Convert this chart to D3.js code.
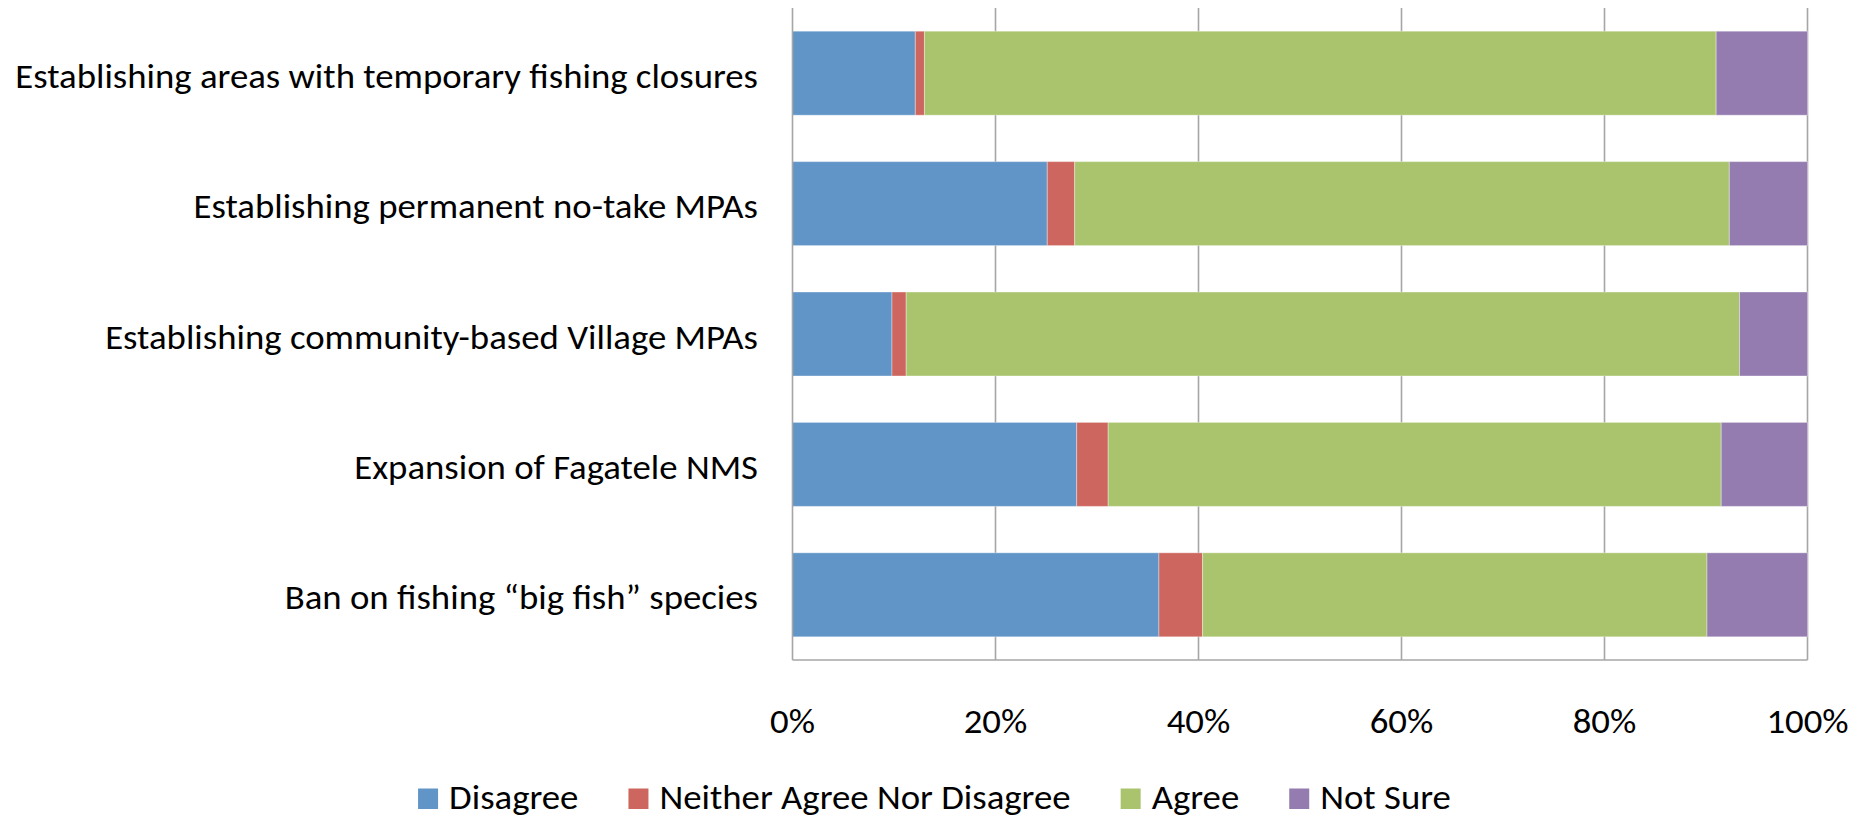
<!DOCTYPE html>
<html>
<head>
<meta charset="utf-8">
<script src="https://cdn.jsdelivr.net/npm/d3@7"></script>
<style>
  html, body { margin: 0; padding: 0; background: #fff; }
  svg { display: block; }
  text { font-family: Carlito, Lato, "Open Sans", sans-serif; fill: #000; }
</style>
</head>
<body>
<svg id="chart" width="1869" height="820"></svg>
<script>
// Survey responses, percentage of respondents per management option
const categories = [
  "Establishing areas with temporary fishing closures",
  "Establishing permanent no-take MPAs",
  "Establishing community-based Village MPAs",
  "Expansion of Fagatele NMS",
  "Ban on fishing \u201cbig fish\u201d species"
];
const seriesNames = ["Disagree", "Neither Agree Nor Disagree", "Agree", "Not Sure"];
const disagree = [12.1, 25.1, 9.8, 28.0, 36.1];
const neither  = [0.9, 2.7, 1.4, 3.1, 4.3];
const agree    = [78.0, 64.5, 82.1, 60.4, 49.7];
const notSure  = [9.0, 7.7, 6.7, 8.5, 9.9];
const tickValues = [0, 20, 40, 60, 80, 100];
const colors = ["#6195C8", "#CD665F", "#AAC46E", "#947BB0"];

const W = 1869, H = 820;
const plot = { left: 792.5, right: 1807.5, top: 8, bottom: 660 };
const fontSize = 34.5;

const rows = categories.map((c, i) => ({
  cat: c,
  "Disagree": disagree[i],
  "Neither Agree Nor Disagree": neither[i],
  "Agree": agree[i],
  "Not Sure": notSure[i]
}));

const stacked = d3.stack().keys(seriesNames)(rows);

const x = d3.scaleLinear().domain([0, 100]).range([plot.left, plot.right]);
const y = d3.scaleBand().domain(categories).range([plot.top, plot.bottom])
  .paddingInner(0.356).paddingOuter(0.178);
const color = d3.scaleOrdinal().domain(seriesNames).range(colors);

const svg = d3.select("#chart");

// vertical gridlines
svg.append("g").selectAll("line")
  .data(tickValues.filter(v => v > 0))
  .join("line")
  .attr("x1", d => x(d)).attr("x2", d => x(d))
  .attr("y1", plot.top).attr("y2", plot.bottom)
  .attr("stroke", "#A6A6A6").attr("stroke-width", 1.6);

// stacked bars
svg.append("g").selectAll("g")
  .data(stacked)
  .join("g")
  .attr("fill", d => color(d.key))
  .selectAll("rect")
  .data(d => d)
  .join("rect")
  .attr("x", d => x(d[0]))
  .attr("width", d => x(d[1]) - x(d[0]))
  .attr("y", d => y(d.data.cat))
  .attr("height", y.bandwidth())
  .attr("stroke", "rgba(255,255,255,0.35)")
  .attr("stroke-width", 1);

// axis lines
svg.append("line")
  .attr("x1", plot.left).attr("x2", plot.left)
  .attr("y1", plot.top).attr("y2", plot.bottom)
  .attr("stroke", "#A6A6A6").attr("stroke-width", 1.6);
svg.append("line")
  .attr("x1", plot.left).attr("x2", plot.right)
  .attr("y1", plot.bottom).attr("y2", plot.bottom)
  .attr("stroke", "#A6A6A6").attr("stroke-width", 1.6);

// horizontal scale factor so the label set keeps its set width
const probe = svg.append("text").attr("font-size", fontSize).text(categories[0]);
const natural = probe.node().getComputedTextLength();
probe.remove();
const sx = 743 / natural;

// category labels
svg.append("g").selectAll("text")
  .data(categories)
  .join("text")
  .attr("transform", d => `translate(758,${y(d) + y.bandwidth() / 2 + 14.5}) scale(${sx},1)`)
  .attr("text-anchor", "end")
  .attr("font-size", fontSize)
  .text(d => d);

// x tick labels
svg.append("g").selectAll("text")
  .data(tickValues)
  .join("text")
  .attr("transform", d => `translate(${x(d)},733) scale(${sx},1)`)
  .attr("text-anchor", "middle")
  .attr("font-size", fontSize)
  .text(d => d + "%");

// legend, centred under the chart
const sw = 20, swGap = 11, itemGap = 50;
const legend = svg.append("g");
const items = seriesNames.map(name => {
  const t = legend.append("text").attr("font-size", fontSize).text(name);
  const w = t.node().getComputedTextLength() * sx;
  t.remove();
  return { name, w };
});
const total = d3.sum(items, d => sw + swGap + d.w) + itemGap * (items.length - 1);
let cx = W / 2 - total / 2;
items.forEach(it => {
  legend.append("rect")
    .attr("x", cx).attr("y", 788.5)
    .attr("width", sw).attr("height", 20.5)
    .attr("fill", color(it.name));
  legend.append("text")
    .attr("transform", `translate(${cx + sw + swGap},809) scale(${sx},1)`)
    .attr("font-size", fontSize)
    .text(it.name);
  cx += sw + swGap + it.w + itemGap;
});
</script>
</body>
</html>
